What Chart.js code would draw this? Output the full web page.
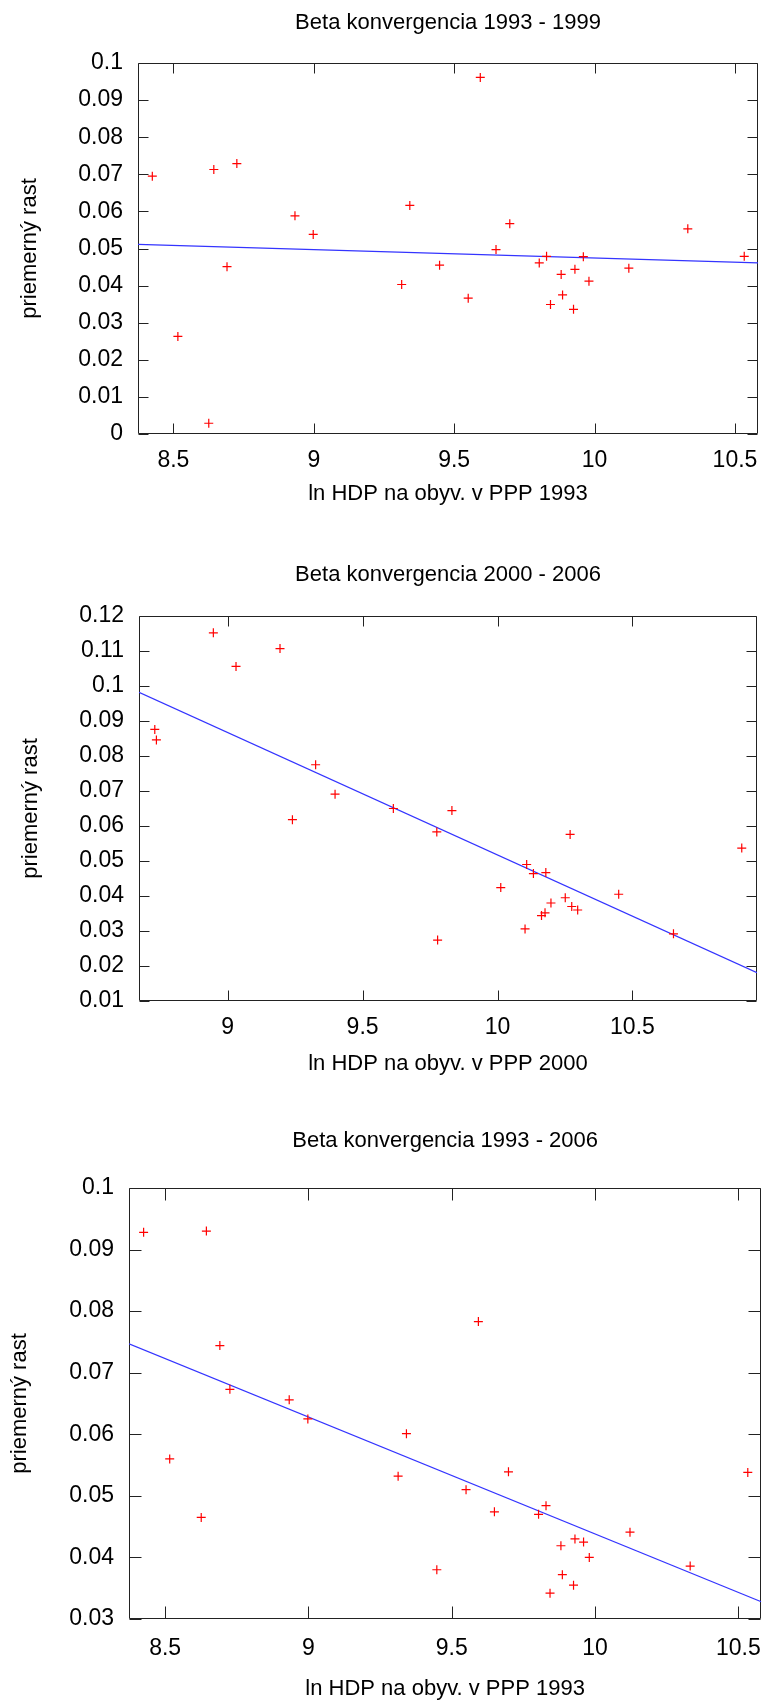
<!DOCTYPE html>
<html>
<head>
<meta charset="utf-8">
<title>Beta konvergencia</title>
<script src="https://cdn.jsdelivr.net/npm/chart.js@4.4.0/dist/chart.umd.min.js"></script>
<style>
  html, body { margin: 0; padding: 0; background: #fff; }
  body { width: 777px; height: 1706px; position: relative; overflow: hidden; }
  .box { position: absolute; left: 0; width: 777px; }
</style>
</head>
<body>
<div class="box" style="top:0px;height:520px"><canvas id="chart1" width="777" height="520"></canvas></div>
<div class="box" style="top:540px;height:540px"><canvas id="chart2" width="777" height="540"></canvas></div>
<div class="box" style="top:1110px;height:596px"><canvas id="chart3" width="777" height="596"></canvas></div>

<script>
// ======== Data ========
// ln HDP per capita in PPP, 1993 (same regions in chart 1 and 3)
const x1993 = [
  8.425, 8.516, 8.626, 8.644, 8.691, 8.726, 8.933, 8.998, 9.313,
  9.342, 9.448, 9.550, 9.593, 9.649, 9.698, 9.803, 9.829, 9.843,
  9.881, 9.886, 9.925, 9.930, 9.960, 9.980, 10.122, 10.332, 10.533,
];
const growth9399 = [
  0.0695, 0.0263, 0.0029, 0.0713, 0.0451, 0.0729, 0.0588, 0.0538, 0.0403,
  0.0616, 0.0455, 0.0366, 0.0961, 0.0497, 0.0567, 0.0461, 0.0479, 0.0349,
  0.0430, 0.0375, 0.0336, 0.0444, 0.0478, 0.0412, 0.0447, 0.0553, 0.0479,
];
const growth9306 = [
  0.0928, 0.0560, 0.0465, 0.0930, 0.0744, 0.0673, 0.0656, 0.0625, 0.0532,
  0.0601, 0.0380, 0.0510, 0.0783, 0.0474, 0.0539, 0.0470, 0.0484, 0.0342,
  0.0419, 0.0372, 0.0355, 0.0430, 0.0425, 0.0400, 0.0441, 0.0386, 0.0538,
];

// ln HDP per capita in PPP, 2000
const x2000 = [
  8.730, 8.736, 8.947, 9.031, 9.194, 9.240, 9.326, 9.398, 9.614,
  9.775, 9.778, 9.831, 10.012, 10.102, 10.108, 10.133, 10.163, 10.176,
  10.179, 10.198, 10.251, 10.269, 10.275, 10.297, 10.449, 10.652, 10.905,
];
const growth0006 = [
  0.0876, 0.0846, 0.1152, 0.1056, 0.1107, 0.0618, 0.0775, 0.0691, 0.0650,
  0.0583, 0.0274, 0.0644, 0.0424, 0.0306, 0.0490, 0.0464, 0.0344, 0.0352,
  0.0467, 0.0380, 0.0395, 0.0576, 0.0370, 0.0360, 0.0405, 0.0292, 0.0537,
];

// regression lines (end points at the plot edges)
const fitX9399 = [8.374, 10.582];
const fitY9399 = [0.0511, 0.0461];
const fitX0006 = [8.6715, 10.9615];
const fitY0006 = [0.0982, 0.0181];
const fitX9306 = [8.374, 10.58];
const fitY9306 = [0.0747, 0.0328];

// tick labels
const xTicks1993 = [8.5, 9, 9.5, 10, 10.5];
const xTicks2000 = [9, 9.5, 10, 10.5];
const yTicks9399 = [0, 0.01, 0.02, 0.03, 0.04, 0.05, 0.06, 0.07, 0.08, 0.09, 0.1];
const yTicks0006 = [0.01, 0.02, 0.03, 0.04, 0.05, 0.06, 0.07, 0.08, 0.09, 0.1, 0.11, 0.12];
const yTicks9306 = [0.03, 0.04, 0.05, 0.06, 0.07, 0.08, 0.09, 0.1];

const FONT = '"Liberation Sans", Arial, sans-serif';

// ======== Helpers ========
function pts(xs, ys) {
  return xs.map((x, i) => ({ x, y: ys[i] }));
}

function fmt(v) {
  return String(+v.toFixed(4));
}

// gnuplot-like frame with inward ticks on all four sides + centred title
const framePlugin = {
  id: "frame",
  beforeDatasetsDraw(chart, args, opts) {
    const { ctx, chartArea: a, scales } = chart;
    const len = opts.tickLen;
    const L = Math.round(a.left) + 0.5;
    const R = Math.round(a.right) - 0.5;
    const T = Math.round(a.top) + 0.5;
    const B = Math.round(a.bottom) - 0.5;
    ctx.save();
    ctx.strokeStyle = "#222";
    ctx.lineWidth = 1;
    ctx.beginPath();
    ctx.rect(L, T, R - L, B - T);
    scales.x.ticks.forEach((t) => {
      const px = Math.round(scales.x.getPixelForValue(t.value)) + 0.5;
      ctx.moveTo(px, B);
      ctx.lineTo(px, B - len);
      ctx.moveTo(px, T);
      ctx.lineTo(px, T + len);
    });
    scales.y.ticks.forEach((t) => {
      const py = Math.round(scales.y.getPixelForValue(t.value)) + 0.5;
      ctx.moveTo(L, py);
      ctx.lineTo(L + len, py);
      ctx.moveTo(R, py);
      ctx.lineTo(R - len, py);
    });
    ctx.stroke();
    ctx.restore();
  },
  afterDraw(chart, args, opts) {
    const { ctx, chartArea: a } = chart;
    ctx.save();
    ctx.fillStyle = "#000";
    ctx.font = `22px ${FONT}`;
    ctx.textAlign = "center";
    ctx.textBaseline = "middle";
    ctx.fillText(opts.text, (a.left + a.right) / 2, opts.y);
    ctx.restore();
  },
};

// ======== Build one scatter plot ========
function buildChart(canvasId, d, lay) {
  const canvas = document.getElementById(canvasId);
  const H = canvas.height;
  return new Chart(canvas.getContext("2d"), {
    type: "scatter",
    data: {
      datasets: [
        {
          data: pts(d.xs, d.ys),
          pointStyle: "cross",
          pointRadius: 4.5,
          borderColor: "#ff0000",
          backgroundColor: "#ff0000",
          borderWidth: 1.2,
        },
        {
          data: pts(d.fitX, d.fitY),
          showLine: true,
          pointRadius: 0,
          borderColor: "#3434ff",
          borderWidth: 1.3,
        },
      ],
    },
    options: {
      responsive: false,
      animation: false,
      events: [],
      layout: {
        padding: { top: lay.plotTop, right: 777 - lay.plotRight, left: 0, bottom: 0 },
      },
      plugins: {
        legend: { display: false },
        tooltip: { enabled: false },
        title: { display: false },
        frame: { tickLen: lay.tickLen, text: d.title, y: lay.titleY },
      },
      scales: {
        x: {
          type: "linear",
          min: d.xRange[0],
          max: d.xRange[1],
          grid: { display: false, drawTicks: false },
          border: { display: false },
          afterBuildTicks: (s) => (s.ticks = d.xTicks.map((v) => ({ value: v }))),
          afterFit: (s) => (s.height = H - lay.plotBottom),
          ticks: {
            callback: fmt,
            color: "#000",
            padding: lay.xTickPad,
            maxRotation: 0,
            autoSkip: false,
            font: { family: FONT, size: 23 },
          },
          title: {
            display: true,
            text: d.xLabel,
            color: "#000",
            font: { family: FONT, size: 22 },
            padding: { top: 0, bottom: H - 13.2 - lay.xTitleY },
          },
        },
        y: {
          type: "linear",
          min: d.yTicks[0],
          max: d.yTicks[d.yTicks.length - 1],
          grid: { display: false, drawTicks: false },
          border: { display: false },
          afterBuildTicks: (s) => (s.ticks = d.yTicks.map((v) => ({ value: v }))),
          afterFit: (s) => (s.width = lay.plotLeft),
          ticks: {
            callback: fmt,
            color: "#000",
            padding: 15,
            autoSkip: false,
            font: { family: FONT, size: 23 },
          },
          title: {
            display: true,
            text: "priemerný rast",
            color: "#000",
            font: { family: FONT, size: 22 },
            padding: { top: lay.yTitleX - 13.2, bottom: 0 },
          },
        },
      },
    },
    plugins: [framePlugin],
  });
}

// ======== Render ========
buildChart(
  "chart1",
  {
    title: "Beta konvergencia 1993 - 1999",
    xLabel: "ln HDP na obyv. v PPP 1993",
    xs: x1993, ys: growth9399, fitX: fitX9399, fitY: fitY9399,
    xRange: [8.374, 10.582], xTicks: xTicks1993, yTicks: yTicks9399,
  },
  { plotTop: 63, plotBottom: 434, plotLeft: 138, plotRight: 758, titleY: 23,
    xTitleY: 494, yTitleX: 30, xTickPad: 12.5, tickLen: 10 }
);

buildChart(
  "chart2",
  {
    title: "Beta konvergencia 2000 - 2006",
    xLabel: "ln HDP na obyv. v PPP 2000",
    xs: x2000, ys: growth0006, fitX: fitX0006, fitY: fitY0006,
    xRange: [8.6715, 10.9615], xTicks: xTicks2000, yTicks: yTicks0006,
  },
  { plotTop: 76, plotBottom: 461, plotLeft: 139, plotRight: 757, titleY: 35,
    xTitleY: 524, yTitleX: 31, xTickPad: 12.5, tickLen: 10 }
);

buildChart(
  "chart3",
  {
    title: "Beta konvergencia 1993 - 2006",
    xLabel: "ln HDP na obyv. v PPP 1993",
    xs: x1993, ys: growth9306, fitX: fitX9306, fitY: fitY9306,
    xRange: [8.374, 10.58], xTicks: xTicks1993, yTicks: yTicks9306,
  },
  { plotTop: 78, plotBottom: 509, plotLeft: 129, plotRight: 769, titleY: 31,
    xTitleY: 579, yTitleX: 20, xTickPad: 16, tickLen: 12 }
);
</script>
</body>
</html>
